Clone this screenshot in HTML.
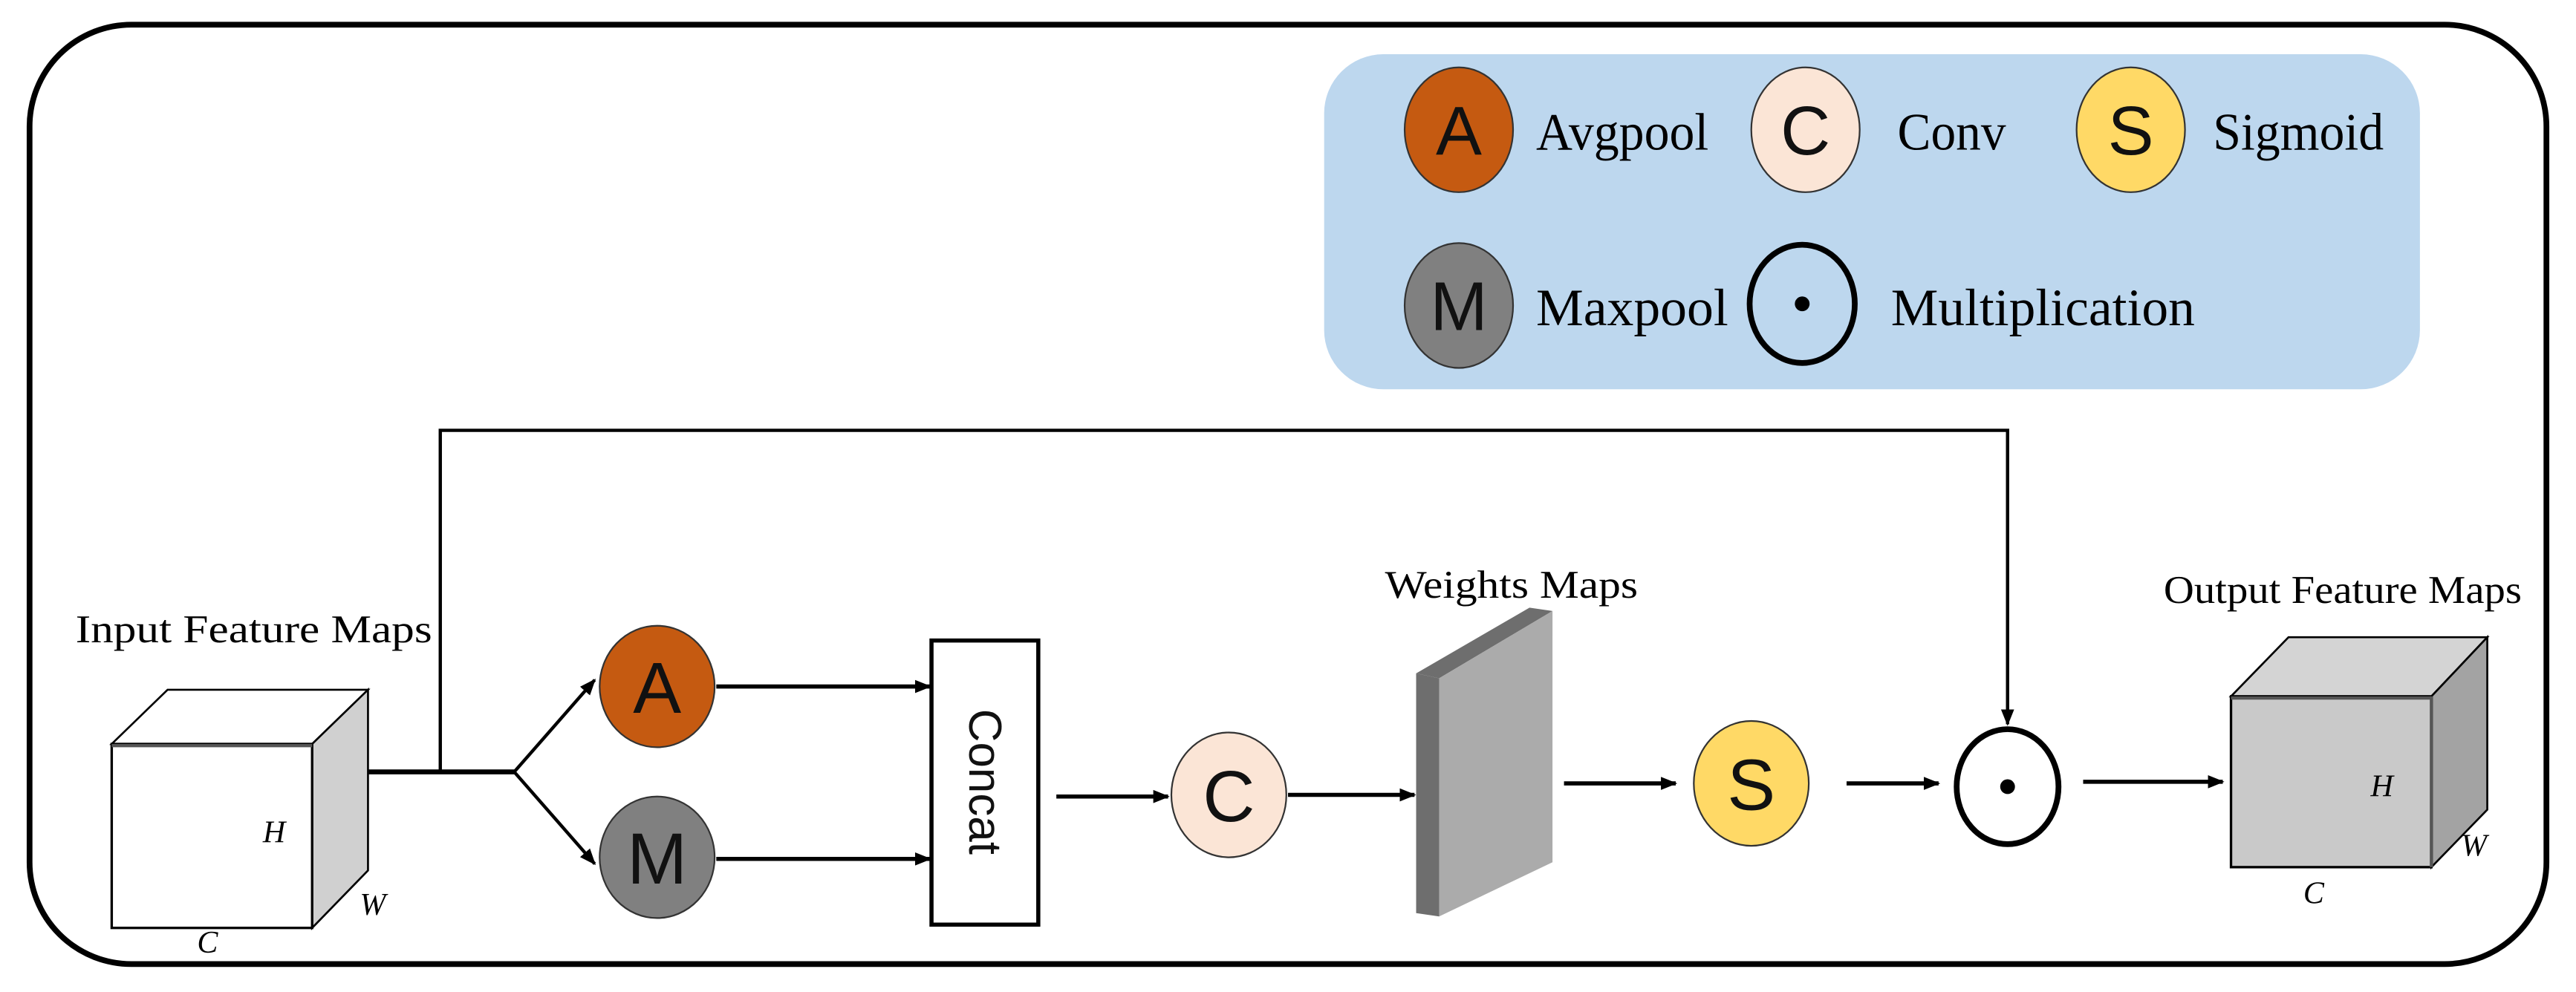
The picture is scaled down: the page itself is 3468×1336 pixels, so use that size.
<!DOCTYPE html>
<html><head><meta charset="utf-8"><style>
html,body{margin:0;padding:0;background:#fff;}
svg{display:block;}
.t{font-family:"Liberation Serif",serif;fill:#000;}
.s{font-family:"Liberation Sans",sans-serif;fill:#111;}
</style></head><body>
<svg width="3468" height="1336" viewBox="0 0 1568 604" xmlns="http://www.w3.org/2000/svg">
<defs>
<marker id="ar" markerWidth="10" markerHeight="10" refX="9" refY="5" orient="auto" markerUnits="userSpaceOnUse">
<path d="M0,1 L10,5 L0,9 z" fill="#000"/>
</marker>
</defs>
<rect x="18" y="15" width="1532" height="572" rx="62" ry="62" fill="#fff" stroke="#000" stroke-width="3.5"/>
<!-- legend -->
<rect x="806" y="33" width="667" height="204" rx="36" ry="36" fill="#BDD7EE"/>
<ellipse cx="888" cy="79" rx="33" ry="38" fill="#C55A11" stroke="#333" stroke-width="1"/>
<text x="888" y="94" class="s" font-size="42" text-anchor="middle">A</text>
<text x="935" y="91" class="t" font-size="32" textLength="105" lengthAdjust="spacingAndGlyphs">Avgpool</text>
<ellipse cx="1099" cy="79" rx="33" ry="38" fill="#FBE5D6" stroke="#333" stroke-width="1"/>
<text x="1099" y="94" class="s" font-size="42" text-anchor="middle">C</text>
<text x="1155" y="91" class="t" font-size="32" textLength="66" lengthAdjust="spacingAndGlyphs">Conv</text>
<ellipse cx="1297" cy="79" rx="33" ry="38" fill="#FFD966" stroke="#333" stroke-width="1"/>
<text x="1297" y="94" class="s" font-size="42" text-anchor="middle">S</text>
<text x="1347" y="91" class="t" font-size="32" textLength="104" lengthAdjust="spacingAndGlyphs">Sigmoid</text>
<ellipse cx="888" cy="186" rx="33" ry="38" fill="#808080" stroke="#333" stroke-width="1"/>
<text x="888" y="201" class="s" font-size="42" text-anchor="middle">M</text>
<text x="935" y="198" class="t" font-size="32" textLength="117" lengthAdjust="spacingAndGlyphs">Maxpool</text>
<ellipse cx="1097" cy="185" rx="32" ry="36" fill="none" stroke="#000" stroke-width="3.5"/>
<circle cx="1097" cy="185" r="4.5" fill="#000"/>
<text x="1151" y="198" class="t" font-size="32" textLength="185" lengthAdjust="spacingAndGlyphs">Multiplication</text>

<!-- input cube -->
<polygon points="68,453 102,420 224,420 190,453" fill="#fff" stroke="#000" stroke-width="1.2"/>
<polygon points="190,453 224,420 224,530 190,565" fill="#d0d0d0" stroke="#000" stroke-width="1.2"/>
<rect x="68" y="453" width="122" height="112" fill="#fff" stroke="#000" stroke-width="1.5"/>
<line x1="68" y1="454" x2="190" y2="454" stroke="#555" stroke-width="2"/>
<text x="46" y="391" class="t" font-size="24" textLength="217" lengthAdjust="spacingAndGlyphs">Input Feature Maps</text>
<text x="160" y="513" class="t" font-size="19" font-style="italic">H</text>
<text x="219" y="557" class="t" font-size="19" font-style="italic">W</text>
<text x="120" y="580" class="t" font-size="19" font-style="italic">C</text>

<!-- skip connection -->
<polyline points="268,470 268,262 1222,262 1222,441" fill="none" stroke="#000" stroke-width="2" marker-end="url(#ar)"/>
<line x1="224" y1="470" x2="314" y2="470" stroke="#000" stroke-width="3"/>
<line x1="313" y1="470" x2="362" y2="414" stroke="#000" stroke-width="2" marker-end="url(#ar)"/>
<line x1="313" y1="470" x2="362" y2="526" stroke="#000" stroke-width="2" marker-end="url(#ar)"/>

<ellipse cx="400" cy="418" rx="35" ry="37" fill="#C55A11" stroke="#333" stroke-width="1"/>
<text x="400" y="434" class="s" font-size="44" text-anchor="middle">A</text>
<ellipse cx="400" cy="522" rx="35" ry="37" fill="#808080" stroke="#333" stroke-width="1"/>
<text x="400" y="538" class="s" font-size="44" text-anchor="middle">M</text>
<line x1="436" y1="418" x2="566" y2="418" stroke="#000" stroke-width="2.5" marker-end="url(#ar)"/>
<line x1="436" y1="523" x2="566" y2="523" stroke="#000" stroke-width="2.5" marker-end="url(#ar)"/>

<rect x="567" y="390" width="65" height="173" fill="#fff" stroke="#000" stroke-width="2.5"/>
<text transform="translate(590,476) rotate(90)" class="s" font-size="28" text-anchor="middle">Concat</text>

<line x1="643" y1="485" x2="711" y2="485" stroke="#000" stroke-width="2.5" marker-end="url(#ar)"/>
<ellipse cx="748" cy="484" rx="35" ry="38" fill="#FBE5D6" stroke="#333" stroke-width="1"/>
<text x="748" y="500" class="s" font-size="44" text-anchor="middle">C</text>
<line x1="784" y1="484" x2="861" y2="484" stroke="#000" stroke-width="2.5" marker-end="url(#ar)"/>

<!-- weights plane -->
<polygon points="862,410 876,413 876,558 862,556" fill="#6e6e6e"/>
<polygon points="862,410 931,370 945,372 876,413" fill="#6e6e6e"/>
<polygon points="876,413 945,372 945,525 876,558" fill="#ababab"/>
<text x="843" y="364" class="t" font-size="24" textLength="154" lengthAdjust="spacingAndGlyphs">Weights  Maps</text>

<line x1="952" y1="477" x2="1020" y2="477" stroke="#000" stroke-width="2.5" marker-end="url(#ar)"/>
<ellipse cx="1066" cy="477" rx="35" ry="38" fill="#FFD966" stroke="#333" stroke-width="1"/>
<text x="1066" y="493" class="s" font-size="44" text-anchor="middle">S</text>
<line x1="1124" y1="477" x2="1180" y2="477" stroke="#000" stroke-width="2.5" marker-end="url(#ar)"/>
<ellipse cx="1222" cy="479" rx="31" ry="35" fill="#fff" stroke="#000" stroke-width="3.5"/>
<circle cx="1222" cy="479" r="4.5" fill="#000"/>
<line x1="1268" y1="476" x2="1353" y2="476" stroke="#000" stroke-width="2.5" marker-end="url(#ar)"/>

<!-- output cube -->
<polygon points="1358,424 1393,388 1514,388 1480,424" fill="#d4d4d4" stroke="#000" stroke-width="1.2"/>
<polygon points="1480,424 1514,388 1514,493 1480,528" fill="#a3a3a3" stroke="#000" stroke-width="1.2"/>
<rect x="1358" y="424" width="122" height="104" fill="#c9c9c9" stroke="#000" stroke-width="1.5"/>
<line x1="1358" y1="425" x2="1480" y2="425" stroke="#555" stroke-width="2"/>
<line x1="1480" y1="424" x2="1480" y2="528" stroke="#555" stroke-width="2"/>
<text x="1317" y="367" class="t" font-size="24" textLength="218" lengthAdjust="spacingAndGlyphs">Output Feature Maps</text>
<text x="1443" y="485" class="t" font-size="19" font-style="italic">H</text>
<text x="1498" y="521" class="t" font-size="19" font-style="italic">W</text>
<text x="1402" y="550" class="t" font-size="19" font-style="italic">C</text>
</svg>
</body></html>
